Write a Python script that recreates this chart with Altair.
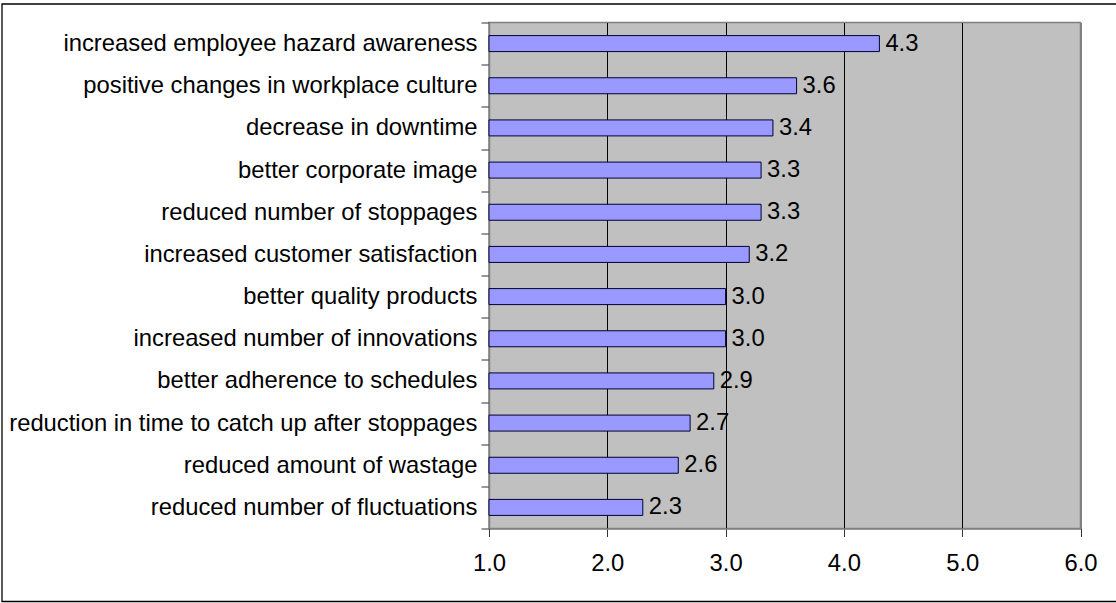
import altair as alt
import pandas as pd

# Benefits observed, in order from the top of the chart down
benefits = [
    "increased employee hazard awareness",
    "positive changes in workplace culture",
    "decrease in downtime",
    "better corporate image",
    "reduced number of stoppages",
    "increased customer satisfaction",
    "better quality products",
    "increased number of innovations",
    "better adherence to schedules",
    "reduction in time to catch up after stoppages",
    "reduced amount of wastage",
    "reduced number of fluctuations",
]
mean_scores = [4.3, 3.6, 3.4, 3.3, 3.3, 3.2, 3.0, 3.0, 2.9, 2.7, 2.6, 2.3]
axis_ticks = [1.0, 2.0, 3.0, 4.0, 5.0, 6.0]

df = pd.DataFrame({"benefit": benefits, "score": mean_scores})

FONT = "Liberation Sans"
FS = 23.8

x_enc = alt.X(
    "score:Q",
    scale=alt.Scale(domain=[1, 6], nice=False, zero=False),
    axis=alt.Axis(
        values=axis_ticks,
        format=".1f",
        title=None,
        grid=True,
        gridColor={"condition": {"test": "datum.value == 6", "value": "#808080"}, "value": "#000000"},
        gridWidth=1,
        domainColor="#808080",
        domainWidth=1.5,
        tickColor="#333333",
        tickSize=8,
        labelPadding=15,
        labelFlush=False,
        labelBound=False,
        labelOverlap=False,
        labelFont=FONT,
        labelFontSize=FS,
        labelColor="#000000",
    ),
)
y_enc = alt.Y(
    "benefit:N",
    sort=benefits,
    scale=alt.Scale(paddingInner=0, paddingOuter=0),
    axis=alt.Axis(
        title=None,
        grid=False,
        tickBand="extent",
        domainColor="#808080",
        domainWidth=1.5,
        tickColor="#333333",
        tickSize=8,
        labelPadding=4,
        labelFont=FONT,
        labelFontSize=FS,
        labelColor="#000000",
        labelLimit=0,
    ),
)

bars = alt.Chart(df).mark_bar(
    size=16, color="#9999FF", stroke="#000033", strokeWidth=1
).encode(x=x_enc, x2=alt.datum(1), y=y_enc)

values = alt.Chart(df).mark_text(
    align="left", baseline="middle", dx=6, font=FONT, fontSize=FS, color="#000000"
).encode(
    x="score:Q",
    y=alt.Y("benefit:N", sort=benefits),
    text=alt.Text("score:Q", format=".1f"),
)

# Outer frame around the whole figure (right side runs past the edge)
frame = alt.Chart(pd.DataFrame({"f": [0]})).mark_rect(
    fill=None, fillOpacity=0, stroke="#000000", strokeWidth=1.3, clip=False
).encode(
    x=alt.value(-487),
    x2=alt.value(660),
    y=alt.value(-18.5),
    y2=alt.value(579),
)

chart = (
    alt.layer(bars, values, frame)
    .properties(
        width=591.5,
        height=506,
        autosize=alt.AutoSizeParams(type="none"),
        padding={"left": 489, "top": 22.5, "right": 35, "bottom": 74.5},
        background="#FFFFFF",
    )
    .configure_view(fill="#C0C0C0", stroke="#808080", strokeWidth=1.5)
)

chart.save("out.html", embed_options={"renderer": "svg", "actions": False})
